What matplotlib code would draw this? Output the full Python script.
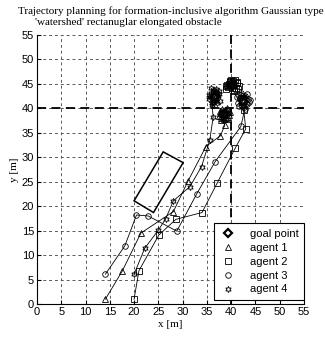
import numpy as np
import matplotlib
matplotlib.use("Agg")
import matplotlib.pyplot as plt
from matplotlib.patches import Polygon

# goal points of the formation
goal_x = [38.5, 40.2, 42.5, 36.7]
goal_y = [38.8, 44.6, 41.5, 42.3]

# agent 1 (triangles)
a1_x = [14.1, 17.6, 21.4, 28.1, 31.1, 34.8, 37.8, 38.7,
        38.0, 39.2, 37.6, 38.9, 39.6, 38.2, 37.5, 39.0, 38.4, 38.8,
        37.9, 39.4, 38.6, 37.7, 39.1, 38.3, 39.8, 38.0, 38.7, 39.3]
a1_y = [1.0, 6.8, 14.5, 18.9, 25.1, 32.2, 34.4, 36.6,
        38.0, 39.5, 39.4, 38.1, 38.7, 39.9, 38.5, 39.2, 38.3, 39.6,
        37.6, 38.2, 37.8, 39.0, 40.1, 38.9, 39.3, 38.4, 39.1, 37.9]

# agent 2 (squares)
a2_x = [20.0, 21.0, 25.1, 28.6, 34.0, 37.1, 40.8, 43.0, 42.6,
        40.5, 39.2, 41.3, 40.0, 39.0, 41.0, 40.4, 39.5, 41.6, 40.2,
        39.7, 41.2, 40.6, 38.9, 40.1, 41.5, 39.4, 40.8, 40.3, 39.8]
a2_y = [1.0, 6.8, 14.1, 17.3, 18.7, 24.7, 31.8, 35.8, 39.6,
        43.5, 44.8, 45.2, 45.8, 44.0, 44.1, 45.5, 45.0, 44.6, 44.2,
        45.6, 45.4, 43.8, 44.5, 45.1, 44.0, 44.3, 45.7, 44.7, 45.3]

# agent 3 (circles)
a3_x = [14.1, 18.1, 20.5, 22.9, 28.8, 32.9, 36.7, 42.0,
        42.8, 41.5, 43.5, 42.0, 43.2, 41.8, 42.9, 42.2, 43.6, 42.5,
        41.3, 42.7, 43.9, 42.1, 41.6, 43.3, 42.4, 41.9, 43.0, 42.6]
a3_y = [6.1, 11.9, 18.2, 18.0, 14.9, 22.5, 29.1, 36.3,
        39.8, 41.0, 42.0, 42.8, 40.8, 41.9, 42.6, 40.6, 41.3, 41.6,
        42.4, 40.2, 41.8, 43.2, 40.5, 42.9, 41.2, 42.1, 41.0, 42.3]

# agent 4 (stars)
a4_x = [20.0, 22.2, 25.0, 26.5, 28.1, 31.5, 33.9, 35.6, 36.3,
        36.0, 37.3, 35.8, 36.9, 37.5, 36.2, 35.5, 37.0, 36.4, 36.8,
        35.4, 37.6, 36.1, 35.9, 37.1, 36.6, 35.6, 37.4, 36.3, 36.9]
a4_y = [6.1, 11.4, 15.1, 17.4, 21.1, 24.0, 28.1, 33.5, 38.3,
        41.0, 42.5, 43.2, 41.5, 43.6, 42.0, 41.9, 43.0, 43.8, 42.3,
        42.8, 41.6, 40.6, 44.1, 41.1, 43.4, 42.4, 42.9, 41.4, 44.0]

# rectangular elongated obstacle corners
obst_x = [20.0, 24.0, 30.1, 26.0]
obst_y = [21.1, 18.7, 28.9, 31.1]

ticks = list(range(0, 56, 5))

plt.rcParams['font.family'] = ['Liberation Sans', 'DejaVu Sans']
fig = plt.figure(figsize=(3.25, 3.38), dpi=100)
ax = fig.add_axes([0.1138, 0.1006, 0.8215, 0.7959])

ax.add_patch(Polygon(list(zip(obst_x, obst_y)), closed=True, fill=False,
                     edgecolor='black', lw=1.1))

ax.axvline(40, color='black', ls=(0, (5, 3)), lw=1.3, zorder=1)
ax.axhline(40, color='black', ls=(0, (5, 3)), lw=1.3, zorder=1)

agents = [(a1_x, a1_y, '^', 'agent 1', 4.5),
          (a2_x, a2_y, 's', 'agent 2', 4.0),
          (a3_x, a3_y, 'o', 'agent 3', 4.0),
          (a4_x, a4_y, (6, 1, 0), 'agent 4', 4.5)]

ax.plot(goal_x, goal_y, ls='none', marker='D', ms=4, mfc='white', mec='black',
        mew=1.6, label='goal point', zorder=3)
for xs, ys, mk, lab, ms in agents:
    ax.plot(xs, ys, color='black', lw=0.6, zorder=2)
    ax.plot(xs, ys, ls='none', marker=mk, ms=ms, mfc='none', mec='black',
            mew=0.6, label=lab, zorder=3)

ax.set_xlim(0, 55)
ax.set_ylim(0, 55)
ax.set_xticks(ticks)
ax.set_yticks(ticks)
ax.tick_params(direction='in', length=3, labelsize=8, pad=2)
ax.grid(True, color='0.35', ls=(0, (3, 3)), lw=0.7)
ax.set_axisbelow(True)
ax.spines['top'].set_visible(False)
ax.spines['right'].set_visible(False)

ax.set_xlabel('x [m]', family='Liberation Serif', fontsize=8, labelpad=2)
ax.set_ylabel('y [m]', family='Liberation Serif', fontsize=8, labelpad=2)

fig.text(0.055, 0.967, 'Trajectory planning for formation-inclusive algorithm Gaussian type',
         family='Liberation Serif', fontsize=8, va='center', ha='left')
fig.text(0.108, 0.932, "'watershed' rectanuglar elongated obstacle",
         family='Liberation Serif', fontsize=8, va='center', ha='left')

leg = ax.legend(loc='lower right', bbox_to_anchor=(1.0, 0.015), borderaxespad=0,
                fontsize=8, fancybox=False, edgecolor='black', framealpha=1,
                handlelength=1.5, handletextpad=1.2, labelspacing=0.35,
                borderpad=0.5)
leg.get_frame().set_linewidth(0.8)

fig.savefig('out.png', dpi=100)
